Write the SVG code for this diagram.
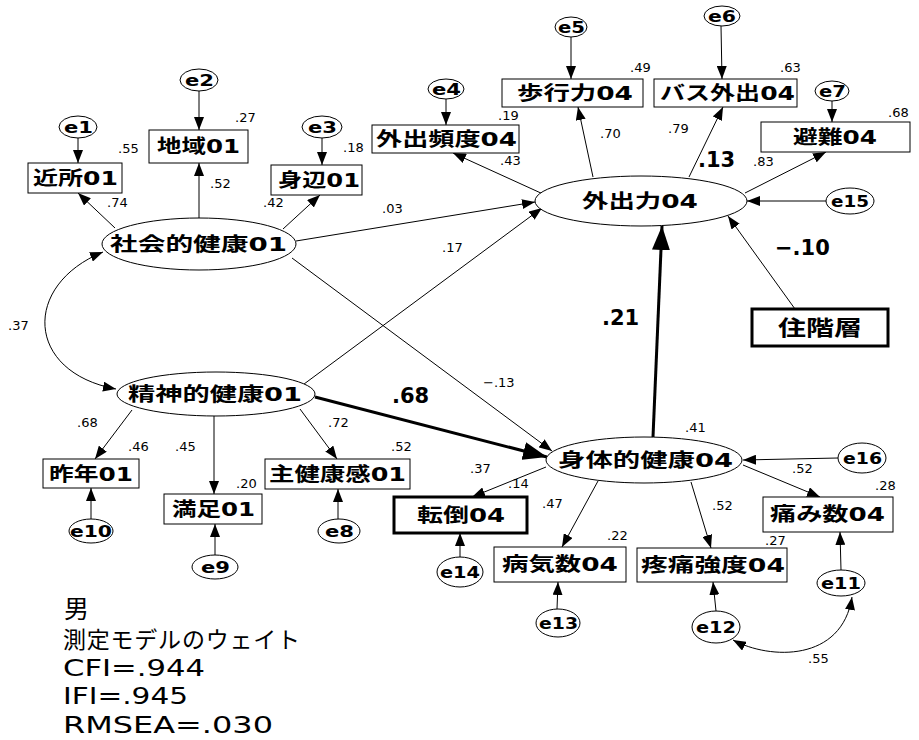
<svg xmlns="http://www.w3.org/2000/svg" width="919" height="740" viewBox="0 0 919 740">
<style>
.bg{fill:#fff}
.box{fill:#fff;stroke:#000;stroke-width:1}
.tbox{fill:#fff;stroke:#000;stroke-width:3}
.ell{fill:#fff;stroke:#000;stroke-width:1}
.lbl{font-family:"DejaVu Sans","Noto Sans CJK JP",sans-serif;font-size:19px;font-weight:bold;fill:#000}
.el{font-family:"DejaVu Sans",sans-serif;font-size:16px;font-weight:bold;fill:#000}
.num{font-family:"DejaVu Sans",sans-serif;font-size:13px;fill:#000}
.big{font-family:"DejaVu Sans",sans-serif;font-size:21px;font-weight:bold;fill:#000}
.leg{font-family:"DejaVu Sans","Noto Sans CJK JP",sans-serif;font-size:23px;fill:#000}
.c{fill:none;stroke:#000;stroke-width:1;marker-end:url(#ah)}
.ct{fill:none;stroke:#000;stroke-width:3;marker-end:url(#ahb)}
.cb{fill:none;stroke:#000;stroke-width:1;marker-end:url(#ah);marker-start:url(#ah)}
</style>
<defs>
<marker id="ah" markerUnits="userSpaceOnUse" markerWidth="13" markerHeight="10" refX="13" refY="5" orient="auto-start-reverse"><path d="M0,0 L13,5 L0,10 z" fill="#000"/></marker>
<marker id="ahb" markerUnits="userSpaceOnUse" markerWidth="24" markerHeight="18" refX="24" refY="9" orient="auto"><path d="M0,0 L24,9 L0,18 z" fill="#000"/></marker>
</defs>
<rect class="bg" x="0" y="0" width="919" height="740"/>

<g id="connectors">
<line class="c" x1="78" y1="138" x2="78" y2="163"/>
<line class="c" x1="199" y1="91" x2="199" y2="130"/>
<line class="c" x1="322" y1="138" x2="322" y2="165"/>
<line class="c" x1="115" y1="228" x2="78" y2="193"/>
<line class="c" x1="199" y1="218" x2="199" y2="163"/>
<line class="c" x1="283" y1="229" x2="320" y2="195"/>
<line class="c" x1="296" y1="241" x2="535" y2="202"/>
<line class="c" x1="300" y1="387" x2="542" y2="208"/>
<line class="c" x1="292" y1="258" x2="552" y2="451"/>
<line class="ct" x1="315" y1="397" x2="547" y2="457"/>
<line class="ct" x1="653" y1="437" x2="662" y2="226"/>
<line class="c" x1="795" y1="309" x2="728" y2="216"/>
<line class="c" x1="826" y1="201" x2="747" y2="201"/>
<line class="c" x1="543" y1="194" x2="453" y2="153"/>
<line class="c" x1="593" y1="177" x2="578" y2="107"/>
<line class="c" x1="689" y1="177" x2="723" y2="107"/>
<line class="c" x1="745" y1="193" x2="826" y2="152"/>
<line class="c" x1="446" y1="99" x2="446" y2="125"/>
<line class="c" x1="571" y1="37" x2="571" y2="79"/>
<line class="c" x1="721" y1="26" x2="722" y2="79"/>
<line class="c" x1="832" y1="101" x2="832" y2="122"/>
<path class="cb" d="M103,252 C22,285 25,372 116,389"/>
<line class="c" x1="132" y1="410" x2="95" y2="459"/>
<line class="c" x1="214" y1="416" x2="214" y2="494"/>
<line class="c" x1="300" y1="409" x2="337" y2="459"/>
<line class="c" x1="91" y1="519" x2="91" y2="488"/>
<line class="c" x1="215" y1="555" x2="215" y2="524"/>
<line class="c" x1="338" y1="519" x2="338" y2="489"/>
<line class="c" x1="546" y1="467" x2="472" y2="497"/>
<line class="c" x1="598" y1="481" x2="562" y2="547"/>
<line class="c" x1="691" y1="482" x2="711" y2="548"/>
<line class="c" x1="743" y1="465" x2="820" y2="497"/>
<line class="c" x1="838" y1="458" x2="743" y2="460"/>
<line class="c" x1="460" y1="557" x2="460" y2="533"/>
<line class="c" x1="557" y1="609" x2="558" y2="582"/>
<line class="c" x1="716" y1="611" x2="713" y2="582"/>
<line class="c" x1="841" y1="570" x2="840" y2="532"/>
<path class="cb" d="M733,640 C770,660 842,662 852,597"/>
</g>

<g id="n-e1"><ellipse class="ell" cx="78" cy="127" rx="19" ry="11"/><text class="el" x="64" y="133" textLength="29" lengthAdjust="spacingAndGlyphs">e1</text></g>
<g id="n-e2"><ellipse class="ell" cx="199" cy="80" rx="19" ry="11"/><text class="el" x="185" y="86" textLength="29" lengthAdjust="spacingAndGlyphs">e2</text></g>
<g id="n-e3"><ellipse class="ell" cx="322" cy="127" rx="20" ry="11"/><text class="el" x="308" y="133" textLength="29" lengthAdjust="spacingAndGlyphs">e3</text></g>
<g id="n-e4"><ellipse class="ell" cx="446" cy="89" rx="18" ry="10"/><text class="el" x="432" y="95" textLength="29" lengthAdjust="spacingAndGlyphs">e4</text></g>
<g id="n-e5"><ellipse class="ell" cx="571" cy="27" rx="16" ry="10"/><text class="el" x="558" y="33" textLength="27" lengthAdjust="spacingAndGlyphs">e5</text></g>
<g id="n-e6"><ellipse class="ell" cx="722" cy="16" rx="18" ry="10"/><text class="el" x="708" y="22" textLength="28" lengthAdjust="spacingAndGlyphs">e6</text></g>
<g id="n-e7"><ellipse class="ell" cx="832" cy="91" rx="17" ry="10"/><text class="el" x="819" y="97" textLength="27" lengthAdjust="spacingAndGlyphs">e7</text></g>
<g id="n-e15"><ellipse class="ell" cx="850" cy="201" rx="24" ry="13"/><text class="el" x="831" y="207" textLength="38" lengthAdjust="spacingAndGlyphs">e15</text></g>
<g id="n-e16"><ellipse class="ell" cx="862" cy="458" rx="24" ry="15"/><text class="el" x="843" y="464" textLength="39" lengthAdjust="spacingAndGlyphs">e16</text></g>
<g id="n-e11"><ellipse class="ell" cx="841" cy="583" rx="24" ry="13"/><text class="el" x="821" y="589" textLength="40" lengthAdjust="spacingAndGlyphs">e11</text></g>
<g id="n-e12"><ellipse class="ell" cx="716" cy="627" rx="24" ry="16"/><text class="el" x="696" y="633" textLength="40" lengthAdjust="spacingAndGlyphs">e12</text></g>
<g id="n-e13"><ellipse class="ell" cx="558" cy="623" rx="22" ry="14"/><text class="el" x="539" y="629" textLength="39" lengthAdjust="spacingAndGlyphs">e13</text></g>
<g id="n-e14"><ellipse class="ell" cx="460" cy="572" rx="23" ry="15"/><text class="el" x="440" y="578" textLength="40" lengthAdjust="spacingAndGlyphs">e14</text></g>
<g id="n-e10"><ellipse class="ell" cx="91" cy="531" rx="22" ry="12"/><text class="el" x="70" y="537" textLength="42" lengthAdjust="spacingAndGlyphs">e10</text></g>
<g id="n-e9"><ellipse class="ell" cx="215" cy="567" rx="23" ry="12"/><text class="el" x="201" y="573" textLength="29" lengthAdjust="spacingAndGlyphs">e9</text></g>
<g id="n-e8"><ellipse class="ell" cx="339" cy="531" rx="21" ry="12"/><text class="el" x="325" y="537" textLength="29" lengthAdjust="spacingAndGlyphs">e8</text></g>

<g id="n-kinjo"><rect class="box" x="28" y="163" width="94" height="30"/><text class="lbl" x="33" y="185" textLength="85" lengthAdjust="spacingAndGlyphs">近所01</text></g>
<g id="n-chiiki"><rect class="box" x="149" y="130" width="99" height="33"/><text class="lbl" x="157" y="153" textLength="83" lengthAdjust="spacingAndGlyphs">地域01</text></g>
<g id="n-shinpen"><rect class="box" x="271" y="165" width="91" height="30"/><text class="lbl" x="278" y="187" textLength="82" lengthAdjust="spacingAndGlyphs">身辺01</text></g>
<g id="n-gaishutsuhindo"><rect class="box" x="372" y="125" width="147" height="28"/><text class="lbl" x="376" y="146" textLength="141" lengthAdjust="spacingAndGlyphs">外出頻度04</text></g>
<g id="n-hokoryoku"><rect class="box" x="502" y="79" width="141" height="28"/><text class="lbl" x="517" y="100" textLength="116" lengthAdjust="spacingAndGlyphs">歩行力04</text></g>
<g id="n-basu"><rect class="box" x="654" y="79" width="143" height="28"/><text class="lbl" x="660" y="100" textLength="135" lengthAdjust="spacingAndGlyphs">バス外出04</text></g>
<g id="n-hinan"><rect class="box" x="761" y="122" width="149" height="30"/><text class="lbl" x="793" y="144" textLength="84" lengthAdjust="spacingAndGlyphs">避難04</text></g>
<g id="n-jukaiso"><rect class="tbox" x="752" y="309" width="136" height="37"/><text class="lbl" x="778" y="335" textLength="84" lengthAdjust="spacingAndGlyphs" style="font-size:21px">住階層</text></g>
<g id="n-tento"><rect class="tbox" x="394" y="497" width="133" height="36"/><text class="lbl" x="417" y="522" textLength="88" lengthAdjust="spacingAndGlyphs">転倒04</text></g>
<g id="n-byoki"><rect class="box" x="494" y="547" width="132" height="35"/><text class="lbl" x="502" y="571" textLength="116" lengthAdjust="spacingAndGlyphs">病気数04</text></g>
<g id="n-totsu"><rect class="box" x="637" y="548" width="150" height="34"/><text class="lbl" x="641" y="572" textLength="144" lengthAdjust="spacingAndGlyphs">疼痛強度04</text></g>
<g id="n-itami"><rect class="box" x="763" y="497" width="130" height="35"/><text class="lbl" x="770" y="521" textLength="115" lengthAdjust="spacingAndGlyphs">痛み数04</text></g>
<g id="n-sakunen"><rect class="box" x="43" y="459" width="96" height="29"/><text class="lbl" x="49" y="481" textLength="84" lengthAdjust="spacingAndGlyphs">昨年01</text></g>
<g id="n-manzoku"><rect class="box" x="164" y="494" width="98" height="30"/><text class="lbl" x="172" y="516" textLength="83" lengthAdjust="spacingAndGlyphs">満足01</text></g>
<g id="n-shukenko"><rect class="box" x="265" y="459" width="145" height="30"/><text class="lbl" x="269" y="481" textLength="137" lengthAdjust="spacingAndGlyphs">主健康感01</text></g>

<g id="n-shakai"><ellipse class="ell" cx="199" cy="244" rx="97" ry="26"/><text class="lbl" x="110" y="251" textLength="177" lengthAdjust="spacingAndGlyphs">社会的健康01</text></g>
<g id="n-gaishutsu"><ellipse class="ell" cx="641" cy="201" rx="106" ry="25"/><text class="lbl" x="582" y="208" textLength="116" lengthAdjust="spacingAndGlyphs">外出力04</text></g>
<g id="n-seishin"><ellipse class="ell" cx="216" cy="394" rx="99" ry="22"/><text class="lbl" x="128" y="401" textLength="174" lengthAdjust="spacingAndGlyphs">精神的健康01</text></g>
<g id="n-shintai"><ellipse class="ell" cx="644" cy="460" rx="98" ry="23"/><text class="lbl" x="558" y="467" textLength="175" lengthAdjust="spacingAndGlyphs">身体的健康04</text></g>

<g id="labels">
<text class="num" x="118" y="153">.55</text>
<text class="num" x="235" y="122">.27</text>
<text class="num" x="343" y="152">.18</text>
<text class="num" x="210" y="188">.52</text>
<text class="num" x="107" y="207">.74</text>
<text class="num" x="263" y="207">.42</text>
<text class="num" x="498" y="120">.19</text>
<text class="num" x="600" y="138">.70</text>
<text class="num" x="500" y="165">.43</text>
<text class="num" x="630" y="72">.49</text>
<text class="num" x="780" y="72">.63</text>
<text class="num" x="888" y="117">.68</text>
<text class="num" x="668" y="133">.79</text>
<text class="big" x="698" y="167">.13</text>
<text class="num" x="753" y="166">.83</text>
<text class="num" x="382" y="213">.03</text>
<text class="num" x="442" y="252">.17</text>
<text class="big" x="602" y="325">.21</text>
<text class="num" x="483" y="387">−.13</text>
<text class="big" x="392" y="403">.68</text>
<text class="big" x="775" y="255">−.10</text>
<text class="num" x="8" y="330">.37</text>
<text class="num" x="77" y="427">.68</text>
<text class="num" x="128" y="451">.46</text>
<text class="num" x="175" y="451">.45</text>
<text class="num" x="236" y="488">.20</text>
<text class="num" x="328" y="427">.72</text>
<text class="num" x="391" y="451">.52</text>
<text class="num" x="470" y="473">.37</text>
<text class="num" x="508" y="488">.14</text>
<text class="num" x="542" y="508">.47</text>
<text class="num" x="607" y="540">.22</text>
<text class="num" x="685" y="432">.41</text>
<text class="num" x="792" y="473">.52</text>
<text class="num" x="875" y="490">.28</text>
<text class="num" x="712" y="510">.52</text>
<text class="num" x="765" y="545">.27</text>
<text class="num" x="808" y="663">.55</text>
</g>

<g id="legend">
<text class="leg" x="64" y="618" style="font-size:25px">男</text>
<text class="leg" x="63" y="648" textLength="237">測定モデルのウェイト</text>
<text class="leg" x="63" y="676" textLength="142" lengthAdjust="spacingAndGlyphs">CFI=.944</text>
<text class="leg" x="63" y="704" textLength="125" lengthAdjust="spacingAndGlyphs">IFI=.945</text>
<text class="leg" x="63" y="733" textLength="210" lengthAdjust="spacingAndGlyphs">RMSEA=.030</text>
</g>
</svg>
